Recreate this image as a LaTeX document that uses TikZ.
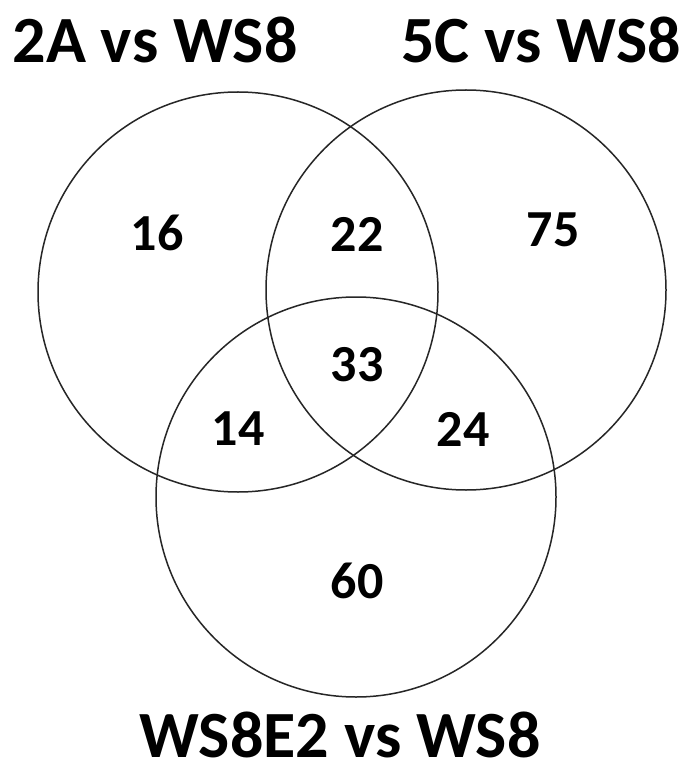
\documentclass[tikz,border=0pt]{standalone}
\usepackage{fontspec}
\setmainfont{Carlito}
\begin{document}
\begin{tikzpicture}[x=1pt,y=-1pt,
  setc/.style={draw=black!85,line width=1.5pt},
  title/.style={font=\fontsize{66}{66}\selectfont\bfseries,inner sep=0pt,anchor=base},
  num/.style={font=\fontsize{52}{52}\selectfont\bfseries,inner sep=0pt}]
\useasboundingbox[fill=white] (0,0) rectangle (691,775);
\draw[setc] (238,292) circle[radius=200];
\draw[setc] (466,290) circle[radius=200];
\draw[setc] (356,497) circle[radius=200];
\node[title] (tA) at (155,63) {2A vs WS8};
\node[title] (tC) at (541,63) {5C vs WS8};
\node[title] (tE) at (340,757) {WS8E2 vs WS8};
\node[num] (n16) at (157,233) {16};
\node[num] (n22) at (357,234) {22};
\node[num] (n75) at (553,230) {75};
\node[num] (n33) at (357,365) {33};
\node[num] (n14) at (238,429) {14};
\node[num] (n24) at (463,429) {24};
\node[num] (n60) at (357,581) {60};
\end{tikzpicture}
\end{document}
